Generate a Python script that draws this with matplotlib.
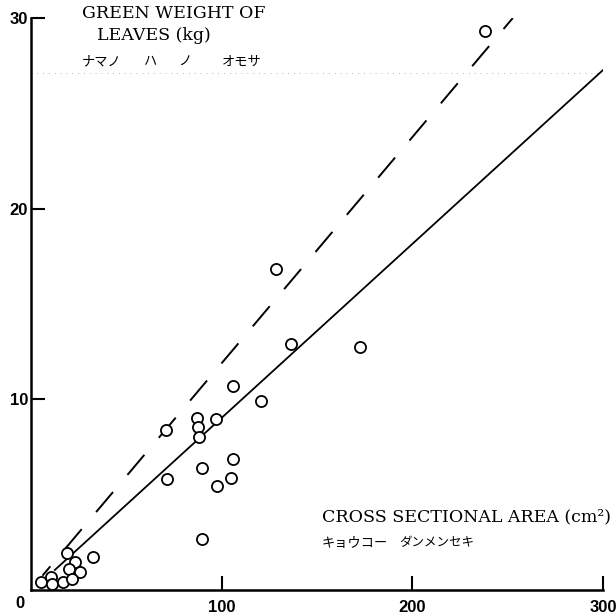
import matplotlib.pyplot as plt

# cross sectional area (cm2) vs green weight of leaves (kg)
area = [238.2, 128.5, 136.2, 172.5, 105.9, 120.4, 87.0, 96.9, 70.6, 87.7,
        88.1, 105.9, 89.8, 71.3, 104.9, 97.5, 89.8,
        5.1, 10.3, 11.2, 19.0, 23.1, 20.1, 25.7, 16.6, 21.3, 32.3]
weight = [29.3, 16.83, 12.88, 12.73, 10.68, 9.91, 9.02, 8.98, 8.37, 8.56,
          8.01, 6.85, 6.41, 5.82, 5.89, 5.47, 2.66,
          0.40, 0.70, 0.30, 1.92, 1.45, 1.08, 0.96, 0.44, 0.56, 1.75]

# regression line (solid) and upper line (dashed)
fit_x = [12.5, 300]
fit_y = [1.05, 27.27]
upper_x = [6.0, 252.7]
upper_y = [0.75, 30.0]

x_ticks = [100, 200, 300]
y_ticks = [10, 20, 30]

serif = 'DejaVu Serif'
jp = ['Noto Sans CJK JP', 'DejaVu Sans']

fig = plt.figure(figsize=(6.16, 6.16), dpi=100)
ax = fig.add_axes([31 / 616, 26 / 616, 572 / 616, 572 / 616])

ax.plot(fit_x, fit_y, color='black', lw=1.3)
ax.plot(upper_x, upper_y, color='black', lw=1.4,
        linestyle=(7.2, (13.5, 11.5)))
ax.plot(area, weight, 'o', ms=8, mfc='white', mec='black', mew=1.3, zorder=3)

# faint dotted guide near the top
ax.axhline(27.1, color='0.6', lw=0.6, linestyle=(0, (1, 6)), zorder=0)

ax.set_xlim(0, 300)
ax.set_ylim(0, 30)
for s in ['top', 'right']:
    ax.spines[s].set_visible(False)
for s in ['left', 'bottom']:
    ax.spines[s].set_linewidth(1.8)

ax.set_xticks(x_ticks)
ax.set_yticks(y_ticks)
ax.tick_params(direction='in', length=10, width=1.5, labelsize=12, pad=7)
ax.tick_params(axis='y', pad=2)
for lab in ax.get_xticklabels() + ax.get_yticklabels():
    lab.set_family('Liberation Sans')
    lab.set_fontweight('bold')
fig.text(20 / 616, 1 - 604 / 616, '0', ha='center', va='center',
         fontsize=12, family='Liberation Sans', fontweight='bold')

# y axis caption
fig.text(82 / 616, 1 - 13 / 616, 'GREEN WEIGHT OF', ha='left', va='center',
         fontsize=12.5, family=serif)
fig.text(97 / 616, 1 - 36 / 616, 'LEAVES (kg)', ha='left', va='center',
         fontsize=12.5, family=serif)
for txt, px in [('ナマノ', 82), ('ハ', 143), ('ノ', 178), ('オモサ', 222)]:
    fig.text(px / 616, 1 - 62 / 616, txt, ha='left', va='center',
             fontsize=9.5, family=jp)

# x axis caption
fig.text(322 / 616, 1 - 517 / 616, 'CROSS SECTIONAL AREA (cm²)', ha='left',
         va='center', fontsize=12.5, family=serif)
fig.text(322 / 616, 1 - 543 / 616, 'キョウコー', ha='left', va='center',
         fontsize=9.5, family=jp)
fig.text(399 / 616, 1 - 543 / 616, 'ダンメンセキ', ha='left', va='center',
         fontsize=9, family=jp)

fig.savefig('out.png', dpi=100)
